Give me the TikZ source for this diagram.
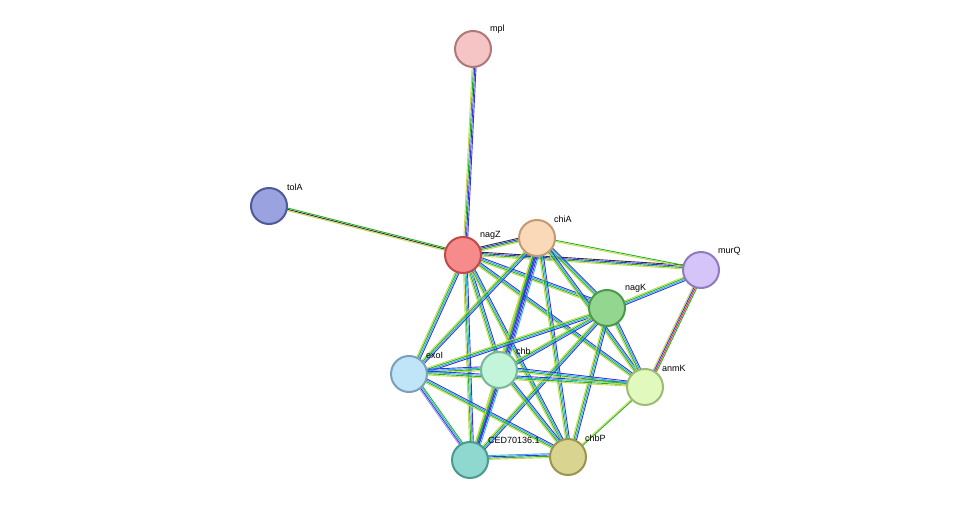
\documentclass[tikz,border=0pt]{standalone}
\usepackage{fontspec}
\setmainfont{Liberation Sans}
\usetikzlibrary{calc}
\definecolor{ty}{HTML}{C8D84A}
\definecolor{tg}{HTML}{22B422}
\definecolor{tb}{HTML}{3535E8}
\definecolor{tc}{HTML}{2EB4D4}
\definecolor{tk}{HTML}{333333}
\definecolor{tr}{HTML}{E83030}
\definecolor{tl}{HTML}{A898E8}
\tikzset{prot/.style={circle,minimum size=36pt,inner sep=0pt,line width=2pt},
 lab/.style={font=\fontsize{9}{10}\selectfont,inner sep=1pt,anchor=south west}}
\newcommand{\edg}[3]{%
 \foreach \c [count=\i] in {#3}{%
  \pgfmathsetmacro{\off}{(\i-1)*1.3}%
  \draw[\c,line width=0.9pt] ($(#1)!\off pt!90:(#2)$) -- ($(#2)!\off pt!-90:(#1)$);}}
\begin{document}
\begin{tikzpicture}[x=1pt,y=-1pt]
\useasboundingbox (0,0) rectangle (975,505);
\coordinate (mpl) at (473,49);
\coordinate (tolA) at (269,206);
\coordinate (nagZ) at (463,255);
\coordinate (chiA) at (537,238);
\coordinate (murQ) at (701,270);
\coordinate (nagK) at (607,308);
\coordinate (exoI) at (409,374);
\coordinate (chb) at (499,370);
\coordinate (anmK) at (645,387);
\coordinate (CED) at (470,460);
\coordinate (chbP) at (568,457);
\edg{mpl}{nagZ}{ty,tg,tb,tb}
\edg{tolA}{nagZ}{ty,tk,tg}
\edg{nagZ}{chiA}{ty,tg,tb,tk}
\edg{nagZ}{murQ}{ty,tg,tb,tk}
\edg{chiA}{murQ}{ty,tg}
\foreach \b in {nagK,exoI,chb,anmK,CED,chbP}{\edg{nagZ}{\b}{ty,tg,tc,tb}}
\foreach \b in {nagK,exoI,anmK,CED,chbP}{\edg{chiA}{\b}{ty,tg,tc,tb}}
\edg{chiA}{chb}{ty,tg,tb,tb,tb,tc}
\edg{murQ}{nagK}{ty,tg,tc,tb}
\edg{murQ}{anmK}{ty,tb,tr,tg}
\foreach \b in {exoI,chb,anmK,CED,chbP}{\edg{nagK}{\b}{ty,tg,tc,tb}}
\foreach \b in {chb,anmK,chbP}{\edg{exoI}{\b}{ty,tg,tc,tb}}
\edg{exoI}{CED}{tl,tb,tc,tg}
\foreach \b in {anmK,chbP}{\edg{chb}{\b}{ty,tg,tc,tb}}
\edg{chb}{CED}{ty,tg,tb,tb,tc}
\edg{anmK}{chbP}{ty,tg}
\edg{CED}{chbP}{ty,tg,tb,tc}
\node[prot,fill={rgb,255:red,245;green,196;blue,196},draw={rgb,255:red,176;green,120;blue,120}] (nmpl) at (mpl) {};
\node[prot,fill={rgb,255:red,154;green,162;blue,224},draw={rgb,255:red,78;green,90;blue,154}] (ntolA) at (tolA) {};
\node[prot,fill={rgb,255:red,247;green,139;blue,139},draw={rgb,255:red,192;green,74;blue,74}] (nnagZ) at (nagZ) {};
\node[prot,fill={rgb,255:red,250;green,217;blue,184},draw={rgb,255:red,196;green,154;blue,116}] (nchiA) at (chiA) {};
\node[prot,fill={rgb,255:red,212;green,196;blue,247},draw={rgb,255:red,143;green,123;blue,192}] (nmurQ) at (murQ) {};
\node[prot,fill={rgb,255:red,146;green,214;blue,143},draw={rgb,255:red,74;green,154;blue,71}] (nnagK) at (nagK) {};
\node[prot,fill={rgb,255:red,192;green,228;blue,248},draw={rgb,255:red,122;green,160;blue,187}] (nexoI) at (exoI) {};
\node[prot,fill={rgb,255:red,194;green,245;blue,218},draw={rgb,255:red,122;green,184;blue,154}] (nchb) at (chb) {};
\node[prot,fill={rgb,255:red,226;green,249;blue,189},draw={rgb,255:red,156;green,188;blue,116}] (nanmK) at (anmK) {};
\node[prot,fill={rgb,255:red,143;green,216;blue,207},draw={rgb,255:red,74;green,154;blue,144}] (nCED) at (CED) {};
\node[prot,fill={rgb,255:red,217;green,212;blue,143},draw={rgb,255:red,154;green,150;blue,80}] (nchbP) at (chbP) {};
\node[lab] at ($(mpl)+(16,-14)$) {mpl};
\node[lab] at ($(tolA)+(17,-14)$) {tolA};
\node[lab] at ($(nagZ)+(16,-14)$) {nagZ};
\node[lab] at ($(chiA)+(16,-14)$) {chiA};
\node[lab] at ($(murQ)+(16,-14)$) {murQ};
\node[lab] at ($(nagK)+(17,-14)$) {nagK};
\node[lab] at ($(exoI)+(16,-14)$) {exoI};
\node[lab] at ($(chb)+(16,-14)$) {chb};
\node[lab] at ($(anmK)+(16,-14)$) {anmK};
\node[lab] at ($(CED)+(16,-14)$) {};
\node[lab,anchor=south west] at ($(CED)+(17,-15)$) {CED70136.1};
\node[lab] at ($(chbP)+(16,-14)$) {chbP};
\end{tikzpicture}
\end{document}
